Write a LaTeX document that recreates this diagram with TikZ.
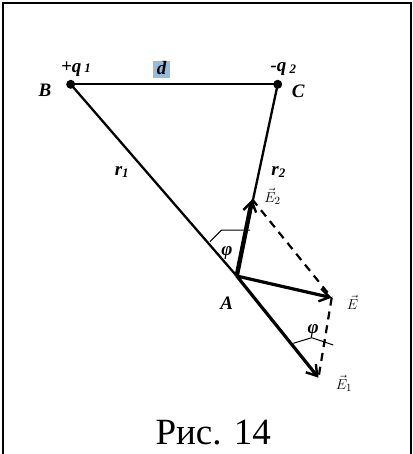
\documentclass[tikz,border=0pt]{standalone}
\usepackage{fontspec}
\setmainfont{Liberation Serif}
\usepackage{tikz}
\usetikzlibrary{arrows.meta, calc, positioning}

\definecolor{hlblue}{RGB}{150,188,218}

\tikzset{
  lbl/.style={font=\fontsize{19}{19}\selectfont\bfseries\itshape, inner sep=0pt},
  vlbl/.style={font=\fontsize{15}{15}\selectfont, inner sep=0pt},
  side/.style={line width=2.3pt},
  vec/.style={line width=3.2pt, -{Straight Barb[length=10pt,width=13pt,line width=2.4pt]}},
  comp/.style={line width=2.2pt, dash pattern=on 8pt off 6pt},
  anglemark/.style={line width=1pt}
}

\begin{document}
\begin{tikzpicture}[x=1pt,y=-1pt,>=Stealth]
  \useasboundingbox (0,0) rectangle (412,454);
  % ---- frame ----
  \draw[line width=1.6pt] (3,456) -- (3,3) -- (411,3) -- (411,456);

  % ---- charges and field point ----
  \coordinate (B) at (70.7,84.3);
  \coordinate (C) at (277.7,84.3);
  \coordinate (A) at (236.7,276);
  \coordinate (E2) at (252.2,199.3);
  \coordinate (E) at (331.7,297.7);
  \coordinate (E1) at (318.5,377.7);

  \draw[side] (B) -- (C);
  \draw[side] (B) -- (A);
  \draw[side] (C) -- (A);
  \fill (B) circle (4.5pt);
  \fill (C) circle (4.5pt);

  % ---- parallelogram ----
  \draw[comp] (E2) -- (E);
  \draw[comp] (E) -- (E1);

  % ---- field vectors ----
  \draw[vec, line width=4.4pt] (A) -- (E2);
  \draw[vec] (A) -- (E);
  \draw[vec] (A) -- (E1);

  % ---- angle marks ----
  \draw[anglemark] (210,241.7) -- (221.7,230) -- (250,230);
  \draw[anglemark] (293.3,343.3) -- (311.7,337.7) -- (333.3,345);

  % ---- labels ----
  \fill[hlblue] (153,61) rectangle (170,78);
  \node[lbl] (lq1) at (76,69.3) {+\textit{q}\,\fontsize{13}{13}\selectfont\textit{1}};
  \node[lbl] (ld) at (161.7,68) {d};
  \node[lbl] (lq2) at (283.3,69.3) {-\textit{q}\,\raisebox{-2pt}{\fontsize{13}{13}\selectfont 2}};
  \node[lbl] (lB) at (45,90) {B};
  \node[lbl] (lC) at (298.3,91.7) {C};
  \node[lbl] (lr1) at (121.7,172) {r\fontsize{13}{13}\selectfont\raisebox{-2pt}{1}};
  \node[lbl] (lr2) at (278.3,172) {r\fontsize{13}{13}\selectfont\raisebox{-2pt}{2}};
  \node[lbl] (lA) at (226.7,303.3) {A};
  \node[lbl] (lphi1) at (227,253) {φ};
  \node[lbl] (lphi2) at (313.3,331) {φ};
  \node[vlbl] (lE2) at (272.5,196.5) {$\vec{E}_2$};
  \node[vlbl] (lE) at (352.5,302.5) {$\vec{E}$};
  \node[vlbl] (lE1) at (344,383.3) {$\vec{E}_1$};

  % ---- caption ----
  \node[font=\fontsize{37}{37}\selectfont, inner sep=0pt] (cap) at (213.3,433) {Рис. 14};
\end{tikzpicture}
\end{document}
